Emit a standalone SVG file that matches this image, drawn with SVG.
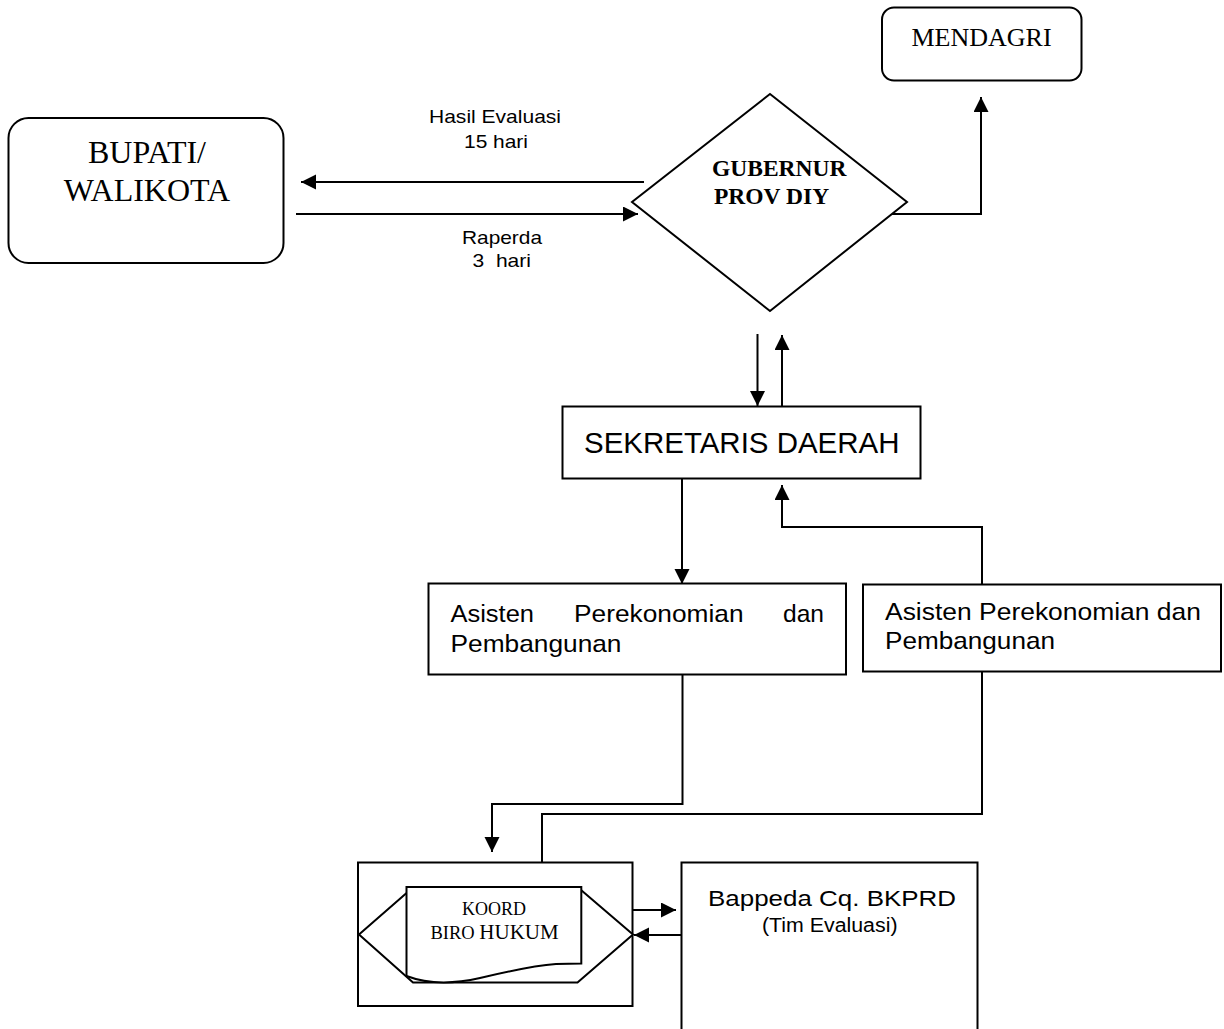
<svg xmlns="http://www.w3.org/2000/svg" width="1224" height="1029" viewBox="0 0 1224 1029">
  <style>
    .box { fill: #fff; stroke: #000; stroke-width: 2; }
    .line { fill: none; stroke: #000; stroke-width: 2; }
    .arrow { marker-end: url(#head); }
    .sans { font-family: "Liberation Sans", Arial, sans-serif; fill: #000; }
    .serif { font-family: "Liberation Serif", "Times New Roman", serif; fill: #000; }
  </style>
  <defs>
    <marker id="head" markerUnits="userSpaceOnUse" markerWidth="16" markerHeight="16" refX="15" refY="7.5" orient="auto">
      <path d="M0,0 L15,7.5 L0,15 Z" fill="#000"/>
    </marker>
  </defs>
  <rect width="1224" height="1029" fill="#fff"/>

  <!-- connectors -->
  <g id="connectors">
    <!-- Gubernur -> Bupati/Walikota (hasil evaluasi) -->
    <line class="line arrow" x1="644" y1="182" x2="301" y2="182"/>
    <!-- Bupati/Walikota -> Gubernur (raperda) -->
    <line class="line arrow" x1="296" y1="214" x2="638" y2="214"/>
    <!-- Gubernur -> Mendagri -->
    <polyline class="line arrow" points="892,214 981,214 981,97"/>
    <!-- Gubernur <-> Sekretaris Daerah -->
    <line class="line arrow" x1="757.5" y1="334" x2="757.5" y2="406"/>
    <line class="line arrow" x1="782" y1="406" x2="782" y2="335"/>
    <!-- Sekretaris Daerah -> Asisten (left) -->
    <line class="line arrow" x1="682" y1="478" x2="682" y2="584"/>
    <!-- Asisten (right) -> Sekretaris Daerah -->
    <polyline class="line arrow" points="982,584 982,527 782,527 782,485"/>
    <!-- Asisten (left) -> Koord Biro Hukum -->
    <polyline class="line arrow" points="682.5,674 682.5,804 492,804 492,852"/>
    <!-- Asisten (right) -> Koord Biro Hukum -->
    <polyline class="line" points="982,672 982,814 542,814 542,862"/>
    <!-- Koord Biro Hukum <-> Bappeda -->
    <line class="line arrow" x1="632" y1="910" x2="676" y2="910"/>
    <line class="line arrow" x1="683" y1="935" x2="634" y2="935"/>
  </g>

  <!-- Bupati / Walikota -->
  <g id="bupati">
    <rect class="box" x="8.5" y="118" width="275" height="145" rx="20" ry="20"/>
    <text class="serif" x="147" y="163" font-size="32" text-anchor="middle">BUPATI/</text>
    <text class="serif" x="147" y="201" font-size="32" text-anchor="middle">WALIKOTA</text>
  </g>

  <!-- arrow labels -->
  <g id="labels">
    <text class="sans" x="429" y="123" font-size="19" textLength="132" lengthAdjust="spacingAndGlyphs">Hasil Evaluasi</text>
    <text class="sans" x="464" y="147.5" font-size="19" textLength="64" lengthAdjust="spacingAndGlyphs">15 hari</text>
    <text class="sans" x="462" y="244" font-size="19" textLength="80" lengthAdjust="spacingAndGlyphs">Raperda</text>
    <text class="sans" x="472.5" y="266.5" font-size="19" textLength="58.5" lengthAdjust="spacingAndGlyphs" xml:space="preserve">3  hari</text>
  </g>

  <!-- Mendagri -->
  <g id="mendagri">
    <rect class="box" x="882" y="7.5" width="199.5" height="73" rx="12" ry="12"/>
    <text class="serif" x="981.5" y="45.5" font-size="26" text-anchor="middle">MENDAGRI</text>
  </g>

  <!-- Gubernur Prov DIY -->
  <g id="gubernur">
    <polygon class="box" points="770,94 907,202 770,311 632,202"/>
    <text class="serif" x="712" y="175.5" font-size="23.5" font-weight="bold">GUBERNUR</text>
    <text class="serif" x="714" y="204" font-size="23.5" font-weight="bold">PROV DIY</text>
  </g>

  <!-- Sekretaris Daerah -->
  <g id="sekda">
    <rect class="box" x="562.5" y="406.5" width="358" height="72"/>
    <text class="sans" x="584" y="453.3" font-size="29.3" textLength="315.5" lengthAdjust="spacingAndGlyphs">SEKRETARIS DAERAH</text>
  </g>

  <!-- Asisten Perekonomian dan Pembangunan (left, justified) -->
  <g id="asisten-left">
    <rect class="box" x="428.5" y="583.5" width="417.5" height="91"/>
    <text class="sans" x="450.5" y="621.7" font-size="24.2" textLength="83.5" lengthAdjust="spacingAndGlyphs">Asisten</text>
    <text class="sans" x="574" y="621.7" font-size="24.2" textLength="169.5" lengthAdjust="spacingAndGlyphs">Perekonomian</text>
    <text class="sans" x="783" y="621.7" font-size="24.2" textLength="41" lengthAdjust="spacingAndGlyphs">dan</text>
    <text class="sans" x="450.5" y="651.7" font-size="24.2" textLength="171" lengthAdjust="spacingAndGlyphs">Pembangunan</text>
  </g>

  <!-- Asisten Perekonomian dan Pembangunan (right) -->
  <g id="asisten-right">
    <rect class="box" x="863" y="584.5" width="358" height="87"/>
    <text class="sans" x="885" y="620" font-size="24.2" textLength="316" lengthAdjust="spacingAndGlyphs">Asisten Perekonomian dan</text>
    <text class="sans" x="885" y="649.3" font-size="24.2" textLength="170" lengthAdjust="spacingAndGlyphs">Pembangunan</text>
  </g>

  <!-- Koord Biro Hukum -->
  <g id="biro-hukum">
    <rect class="box" x="358" y="862.5" width="274.5" height="143.5"/>
    <polygon class="box" points="359,934.5 410,890 581,890 633,934.5 577.5,982.5 413,982.5"/>
    <path class="box" d="M406.5,887 L581.3,887 L581.3,963.5 L556,964 C530,966 505,972 480,978 C458,983 430,985 406.5,976 Z"/>
    <text class="serif" x="494" y="915" font-size="18" text-anchor="middle">KOORD</text>
    <text class="serif" x="430.5" y="939" font-size="18.5">BIRO <tspan font-size="21">HUKUM</tspan></text>
  </g>

  <!-- Bappeda Cq. BKPRD -->
  <g id="bappeda">
    <rect class="box" x="681.5" y="862.5" width="296" height="190"/>
    <text class="sans" x="708" y="906" font-size="22.5" textLength="248" lengthAdjust="spacingAndGlyphs">Bappeda Cq. BKPRD</text>
    <text class="sans" x="762" y="931.5" font-size="20" textLength="135.5" lengthAdjust="spacingAndGlyphs">(Tim Evaluasi)</text>
  </g>
</svg>
